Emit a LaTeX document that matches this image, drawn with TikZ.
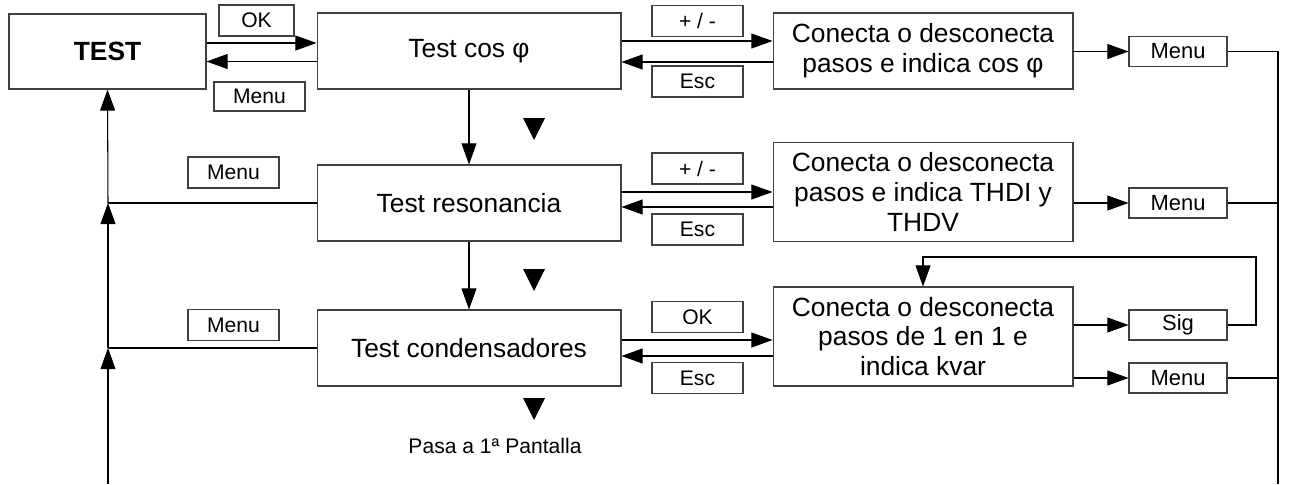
\documentclass[tikz,border=0pt]{standalone}
\usepackage{fontspec}
\setmainfont{Liberation Sans}
\usetikzlibrary{arrows.meta}

\begin{document}
\begin{tikzpicture}[x=0.02cm, y=-0.02cm, line width=0.6pt, >={Triangle[length=12pt,width=8.5pt]}]
	\tikzstyle{screen}=[draw=black!75, minimum width=6.08cm, minimum height=1.52cm, inner sep=0pt, align=center, font=\fontsize{15}{17}\selectfont]
	\tikzstyle{action}=[screen, minimum width=6cm]
	\tikzstyle{key}=[draw=black!75, minimum width=1.82cm, minimum height=0.62cm, inner sep=0pt, font=\fontsize{12}{14}\selectfont]
	\tikzstyle{outkey}=[key, minimum width=1.96cm, minimum height=0.6cm, font=\fontsize{12.5}{14}\selectfont]
	\useasboundingbox (0,0) rectangle (1291,484);
	
	% screens
	\node[screen, minimum width=3.94cm, minimum height=1.5cm, font=\bfseries\fontsize{15}{17}\selectfont] (test) at (107.5,51.5) {TEST};
	\node[screen] (cos) at (469,51) {Test cos φ};
	\node[screen] (res) at (469,203) {Test resonancia};
	\node[screen] (cond) at (469,348) {Test condensadores};
	\node[action] (con1) at (923,51) {Conecta o desconecta\\pasos e indica cos φ};
	\node[action, minimum height=1.98cm] (con2) at (923,192) {Conecta o desconecta\\pasos e indica THDI y\\THDV};
	\node[action, minimum height=1.98cm] (con3) at (923,336.5) {Conecta o desconecta\\pasos de 1 en 1 e\\indica kvar};
	
	% keys
	\node[key, minimum width=1.5cm] (ok1) at (256.5,20.5) {OK};
	\node[key, minimum height=0.58cm] (back1) at (259.5,96.5) {Menu};
	\node[key] (pm1) at (697.5,21) {+ / -};
	\node[key] (esc1) at (697.5,81.5) {Esc};
	\node[key] (pm2) at (697.5,168.5) {+ / -};
	\node[key] (esc2) at (697.5,229.5) {Esc};
	\node[key] (ok3) at (697.5,317) {OK};
	\node[key] (esc3) at (697.5,378) {Esc};
	\node[key] (back2) at (233.5,172.5) {Menu};
	\node[key] (back3) at (233.5,325) {Menu};
	\node[outkey] (menu1) at (1178,51.5) {Menu};
	\node[outkey] (menu2) at (1178,203) {Menu};
	\node[outkey] (sig) at (1178,325) {Sig};
	\node[outkey] (menu3) at (1178,378) {Menu};
	\node[font=\fontsize{12}{14}\selectfont] (next) at (495,446) {Pasa a 1ª Pantalla};
	
	\coordinate (rtop) at (1278,51.5);
	\coordinate (rbot) at (1278,484);
	\coordinate (lbot) at (108,484);
	\coordinate (loop) at (1256,257);
	
	% left column
	\draw[->] ([yshift=0.17cm]test.east) -- ([yshift=0.17cm]test.east -| cos.west);
	\draw[->] ([yshift=-0.21cm]cos.west) -- ([yshift=-0.21cm]cos.west -| test.east);
	\draw[->] (cos.south) -- (res.north);
	\draw[->] (res.south) -- (cond.north);
	\draw (res.west) -- (lbot |- res.west);
	\draw (cond.west) -- (lbot |- cond.west);
	\draw[->] (lbot) -- (lbot |- cond.west);
	\draw[->] (lbot |- cond.west) -- (lbot |- res.west);
	\draw[->] (lbot |- res.west) -- (test.south);
	
	% screens to actions
	\draw[->] ([yshift=0.2cm]cos.east) -- ([yshift=0.2cm]cos.east -| con1.west);
	\draw[->] ([yshift=-0.22cm]con1.west) -- ([yshift=-0.22cm]con1.west -| cos.east);
	\draw[->] ([yshift=0.22cm]res.east) -- ([yshift=0.22cm]res.east -| con2.west);
	\draw[->] ([yshift=-0.08cm]con2.west |- res.east) -- ([yshift=-0.08cm]res.east);
	\draw[->] ([yshift=0.16cm]cond.east) -- ([yshift=0.16cm]cond.east -| con3.west);
	\draw[->] ([yshift=-0.16cm]con3.west |- cond.east) -- ([yshift=-0.16cm]cond.east);
	
	% actions to keys
	\draw[->] (con1.east |- menu1.west) -- (menu1.west);
	\draw[->] (con2.east |- menu2.west) -- (menu2.west);
	\draw[->] (con3.east |- sig.west) -- (sig.west);
	\draw[->] (con3.east |- menu3.west) -- (menu3.west);
	\draw[->] (sig.east) -| (loop) -| (con3.north);
	\draw (menu1.east) -- (rtop) -- (rbot);
	\draw (menu2.east) -- (menu2.east -| rtop);
	\draw (menu3.east) -- (menu3.east -| rtop);
	
	% markers
	\fill (534,118) ++(-11,0) -- ++(22,0) -- ++(-11,22) -- cycle;
	\fill (534,269) ++(-11,0) -- ++(22,0) -- ++(-11,22) -- cycle;
	\fill (534,398) ++(-11,0) -- ++(22,0) -- ++(-11,22) -- cycle;
\end{tikzpicture}
\end{document}
